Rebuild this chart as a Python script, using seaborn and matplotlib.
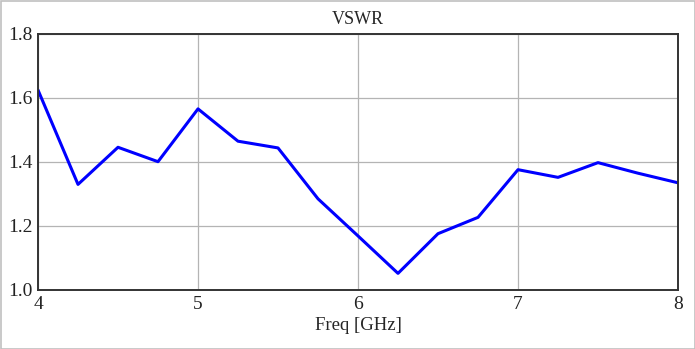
import numpy as np
import pandas as pd
import matplotlib
matplotlib.use('Agg')
import matplotlib.pyplot as plt
from matplotlib.patches import Rectangle
import seaborn as sns

# VSWR data
freq = [4.0, 4.25, 4.5, 4.75, 5.0, 5.25, 5.5, 5.75, 6.0,
        6.25, 6.5, 6.75, 7.0, 7.25, 7.5, 7.75, 8.0]
vswr = [1.625, 1.330, 1.446, 1.401, 1.566, 1.465, 1.444, 1.285, 1.169,
        1.052, 1.176, 1.227, 1.376, 1.352, 1.398, 1.365, 1.335]
x_ticks = [4, 5, 6, 7, 8]
y_ticks = [1.0, 1.2, 1.4, 1.6, 1.8]

df = pd.DataFrame({'Freq [GHz]': freq, 'VSWR': vswr})

sns.set_style('whitegrid')
plt.rcParams['font.family'] = ['Liberation Serif', 'DejaVu Serif']
plt.rcParams['font.size'] = 13

fig = plt.figure(figsize=(6.95, 3.49), dpi=100)
ax = fig.add_axes([38 / 695, 59 / 349, 640 / 695, 256 / 349])

sns.lineplot(data=df, x='Freq [GHz]', y='VSWR', ax=ax, color='#0000ff', linewidth=2.2)

ax.set_xlim(4, 8)
ax.set_ylim(1.0, 1.8)
ax.set_xticks(x_ticks)
ax.set_yticks(y_ticks)
ax.set_yticklabels(['{:.1f}'.format(v) for v in y_ticks])
ax.tick_params(length=0, labelsize=14, colors='#222222', pad=4)
ax.grid(True, color='#b4b4b4', linewidth=0.9)
for s in ax.spines.values():
    s.set_color('#333333')
    s.set_linewidth(1.4)
ax.set_ylabel('')
ax.set_xlabel('Freq [GHz]', fontsize=13.5, labelpad=3)
ax.set_title('VSWR', fontsize=13, pad=7)

# light grey frame round the figure
fig.patches.append(Rectangle((0.5 / 695, 0.5 / 349), 694 / 695, 348 / 349,
                             transform=fig.transFigure, fill=False,
                             edgecolor='#c0c0c0', linewidth=1.2))

plt.savefig('out.png', dpi=100)
